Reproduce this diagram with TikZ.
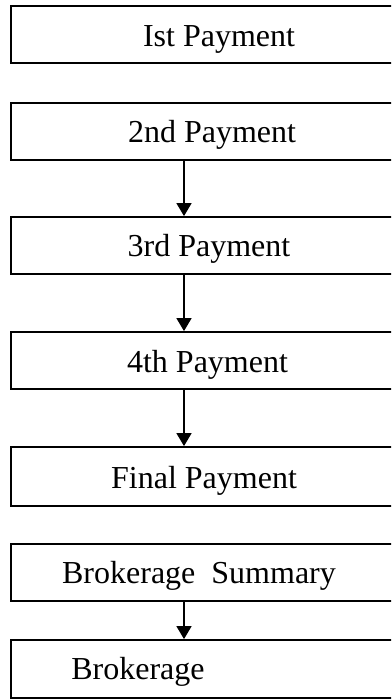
\documentclass[tikz,border=0pt]{standalone}
\usepackage{fontspec}
\setmainfont{Liberation Serif}
\usetikzlibrary{arrows.meta}
\begin{document}
\begin{tikzpicture}[x=1pt,y=-1pt,
  boxstyle/.style={draw=black,line width=1.8pt,rectangle,inner sep=0pt},
  lbl/.style={anchor=base,inner sep=0pt,font=\fontsize{32}{38}\selectfont},
  arr/.style={line width=1.5pt,-{Triangle[width=15pt,length=13pt]}}]
\useasboundingbox (0,0) rectangle (391,700);
\clip (0,0) rectangle (391,700);
% boxes: from x=11 to x=420 (right side beyond the picture)
\node[boxstyle,minimum width=409pt,minimum height=57pt] (b1) at (215.5,34.5) {};
\node[boxstyle,minimum width=409pt,minimum height=57pt] (b2) at (215.5,131.5) {};
\node[boxstyle,minimum width=409pt,minimum height=57pt] (b3) at (215.5,245.5) {};
\node[boxstyle,minimum width=409pt,minimum height=57pt] (b4) at (215.5,360.5) {};
\node[boxstyle,minimum width=409pt,minimum height=59pt] (b5) at (215.5,476.5) {};
\node[boxstyle,minimum width=409pt,minimum height=57pt] (b6) at (215.5,572.5) {};
\node[boxstyle,minimum width=409pt,minimum height=58pt] (b7) at (215.5,669) {};
% labels
\node[lbl] (t1) at (219,47) {Ist Payment};
\node[lbl] (t2) at (212,143) {2nd Payment};
\node[lbl] (t3) at (209,257) {3rd Payment};
\node[lbl] (t4) at (207.5,372.5) {4th Payment};
\node[lbl] (t5) at (204,488) {Final Payment};
\node[lbl] (t6) at (199,583) {Brokerage\ \ Summary};
\node[lbl] (t7) at (138,679) {Brokerage};
% connectors
\coordinate (ax) at (184,0);
\draw[arr] (b2.south -| ax) -- (b3.north -| ax);
\draw[arr] (b3.south -| ax) -- (b4.north -| ax);
\draw[arr] (b4.south -| ax) -- (b5.north -| ax);
\draw[arr] (b6.south -| ax) -- (b7.north -| ax);
\end{tikzpicture}
\end{document}
